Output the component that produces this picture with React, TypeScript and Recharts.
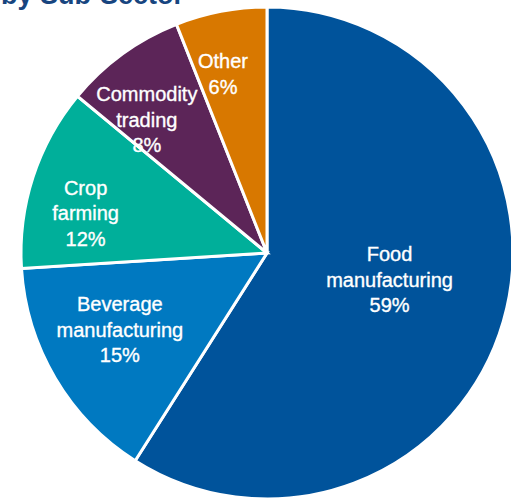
import React from 'react';
import { PieChart, Pie, Cell } from 'recharts';

const sectors = ['Food manufacturing', 'Beverage manufacturing', 'Crop farming', 'Commodity trading', 'Other'];
const shares = [59, 15, 12, 8, 6];
const labelLines = [
  ['Food', 'manufacturing'],
  ['Beverage', 'manufacturing'],
  ['Crop', 'farming'],
  ['Commodity', 'trading'],
  ['Other'],
];
const COLORS = ['#00539B', '#0079C1', '#00AF9A', '#5C2558', '#D87800'];

// label placement tweaks (radius fraction, angle shift in degrees)
const LABEL_POS = [
  { r: 0.51, da: 3.8 },
  { r: 0.675, da: -3 },
  { r: 0.755, da: 5.6 },
  { r: 0.73, da: 6 },
  { r: 0.75, da: 3 },
];

const data = sectors.map((name, i) => ({ name, value: shares[i] }));
const RAD = Math.PI / 180;

const renderLabel = (props: any) => {
  const { cx, cy, midAngle, outerRadius, index, value } = props;
  const pos = LABEL_POS[index];
  const a = (midAngle + pos.da) * RAD;
  const r = outerRadius * pos.r;
  const x = cx + r * Math.cos(-a);
  const y = cy + r * Math.sin(-a);
  const lines = [...labelLines[index], `${value}%`];
  const lh = 25.5;
  const top = y - ((lines.length - 1) * lh) / 2;
  return (
    <text x={x} y={top} fill="#fff" stroke="#fff" strokeWidth={0.35} textAnchor="middle" dominantBaseline="central"
      style={{ fontFamily: '"Liberation Sans", Arial, sans-serif', fontSize: 20 }}>
      {lines.map((l, i) => (
        <tspan key={i} x={x} y={top + i * lh}>{l}</tspan>
      ))}
    </text>
  );
};

export default function App() {
  return (
    <div style={{ position: 'absolute', left: 0, top: 0, width: 511, height: 498, background: '#fff', overflow: 'hidden' }}>
      <svg width={511} height={20} style={{ position: 'absolute', left: 0, top: 0 }}>
        <text x={1} y={4} fill="#17457F" style={{ fontFamily: '"Liberation Sans", Arial, sans-serif', fontSize: 27, fontWeight: 700 }}>
          by Sub-Sector
        </text>
      </svg>
      <PieChart width={511} height={498} margin={{ top: 0, right: 0, bottom: 0, left: 0 }} style={{ position: 'absolute', left: 0, top: 0 }}>
        <Pie
          data={data}
          dataKey="value"
          nameKey="name"
          cx={267}
          cy={253}
          outerRadius={246}
          startAngle={90}
          endAngle={-270}
          stroke="#fff"
          strokeWidth={3}
          labelLine={false}
          label={renderLabel}
          isAnimationActive={false}
        >
          {data.map((_, i) => (
            <Cell key={i} fill={COLORS[i]} />
          ))}
        </Pie>
      </PieChart>
    </div>
  );
}
